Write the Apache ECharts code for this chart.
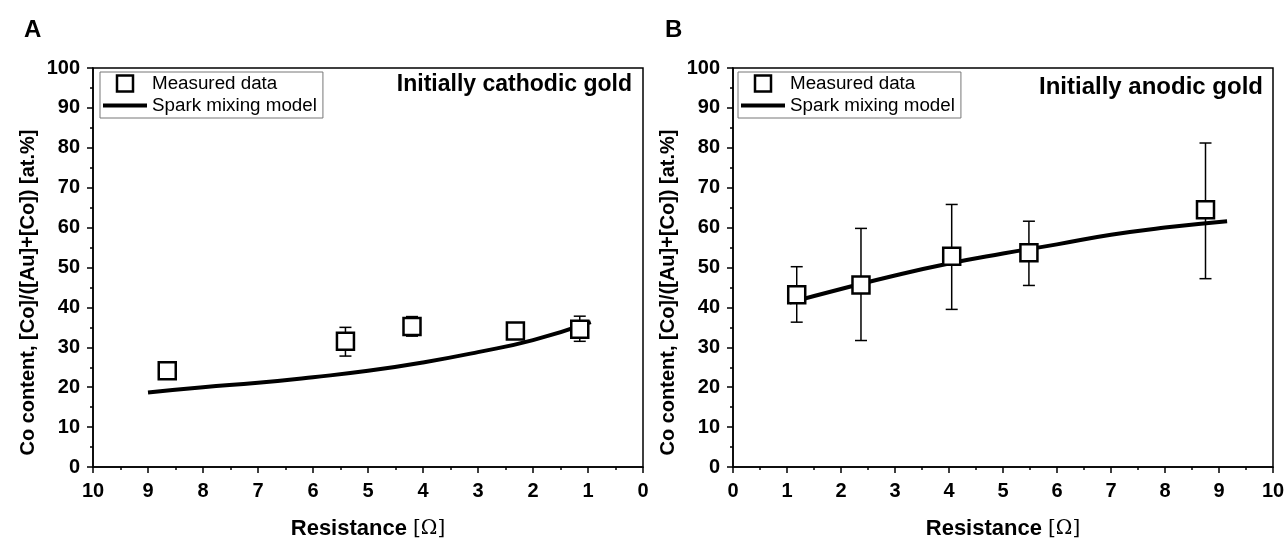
<!DOCTYPE html>
<html>
<head>
<meta charset="utf-8">
<script src="https://cdn.jsdelivr.net/npm/echarts@6/dist/echarts.min.js"></script>
<style>
  html, body { margin:0; padding:0; background:#fff; }
  #main { width:1285px; height:542px; }
</style>
</head>
<body>
<div id="main"></div>
<script>
// panel A: initially cathodic gold
var rA   = [8.65, 5.41, 4.20, 2.32, 1.15];
var coA  = [24.1, 31.5, 35.2, 34.1, 34.5];
var loA  = [23.4, 27.8, 32.8, 32.3, 31.5];
var hiA  = [24.8, 35.0, 37.7, 35.9, 37.8];
var modA = [[9.0,18.7],[8,20.0],[7,21.1],[6,22.5],[5,24.1],[4,26.2],[3,28.8],[2,31.8],[0.95,36.3]];

// panel B: initially anodic gold
var rB   = [1.18, 2.37, 4.05, 5.48, 8.75];
var coB  = [43.2, 45.6, 52.8, 53.7, 64.5];
var loB  = [36.3, 31.7, 39.5, 45.5, 47.2];
var hiB  = [50.2, 59.8, 65.8, 61.6, 81.2];
var modB = [[1.05,41.2],[2,44.6],[3,48.0],[4,51.0],[5,53.5],[6,55.8],[7,58.2],[8,60.0],[9.15,61.6]];

var FONT = "Liberation Sans";
var ch = echarts.init(document.getElementById("main"), null, {renderer:"canvas"});

function xAx(idx, inverse){
  return {
    type:"value", gridIndex:idx, min:0, max:10, interval:1, inverse:inverse,
    name:"Resistance {o|[Ω]}", nameLocation:"middle", nameGap:51,
    nameTextStyle:{color:"#000", fontFamily:FONT, fontWeight:"bold", fontSize:22,
      rich:{o:{fontFamily:"DejaVu Serif", fontWeight:"normal", fontSize:20, color:"#000"}}},
    axisLine:{onZero:false, lineStyle:{color:"#000", width:1.5}},
    axisTick:{inside:false, length:6, lineStyle:{color:"#000", width:1.5}},
    minorTick:{show:true, splitNumber:2, length:3, lineStyle:{color:"#000", width:1.5}},
    axisLabel:{color:"#000", fontFamily:FONT, fontWeight:"bold", fontSize:20, margin:14},
    splitLine:{show:false}
  };
}
function yAx(idx){
  return {
    type:"value", gridIndex:idx, min:0, max:100, interval:10,
    name:"Co content, [Co]/([Au]+[Co]) [at.%]", nameLocation:"middle", nameGap:55,
    nameTextStyle:{color:"#000", fontFamily:FONT, fontWeight:"bold", fontSize:20, padding:[0,50,0,0]},
    axisLine:{show:true, onZero:false, lineStyle:{color:"#000", width:1.5}},
    axisTick:{inside:false, length:6, lineStyle:{color:"#000", width:1.5}},
    minorTick:{show:true, splitNumber:2, length:3, lineStyle:{color:"#000", width:1.5}},
    axisLabel:{color:"#000", fontFamily:FONT, fontWeight:"bold", fontSize:20, margin:13},
    splitLine:{show:false}
  };
}
function errBars(idx, xs, lo, hi){
  return {
    type:"custom", xAxisIndex:idx, yAxisIndex:idx, z:2, silent:true,
    data:xs.map(function(x,i){ return [x, lo[i], hi[i]]; }),
    renderItem:function(params, api){
      var a = api.coord([api.value(0), api.value(1)]);
      var b = api.coord([api.value(0), api.value(2)]);
      var w = 6, st = {stroke:"#000", lineWidth:1.5};
      return {type:"group", children:[
        {type:"line", shape:{x1:a[0], y1:a[1], x2:b[0], y2:b[1]}, style:st},
        {type:"line", shape:{x1:a[0]-w, y1:a[1], x2:a[0]+w, y2:a[1]}, style:st},
        {type:"line", shape:{x1:b[0]-w, y1:b[1], x2:b[0]+w, y2:b[1]}, style:st}
      ]};
    }
  };
}
function measured(idx, xs, ys){
  return {
    type:"scatter", name:"Measured data", xAxisIndex:idx, yAxisIndex:idx, z:4,
    symbol:"rect", symbolSize:17,
    itemStyle:{color:"#fff", borderColor:"#000", borderWidth:2.5, opacity:1},
    emphasis:{disabled:true},
    data:xs.map(function(x,i){ return [x, ys[i]]; })
  };
}
function model(idx, pts){
  return {
    type:"line", name:"Spark mixing model", xAxisIndex:idx, yAxisIndex:idx, z:3,
    smooth:true, symbol:"none", data:pts,
    lineStyle:{color:"#000", width:4},
    itemStyle:{color:"#000"}
  };
}
function legend(left){
  return {
    orient:"vertical", left:left, top:72, itemWidth:44, itemHeight:16, itemGap:3,
    padding:[2,6,3,3], borderColor:"#777", borderWidth:1, selectedMode:false,
    textStyle:{color:"#000", fontFamily:FONT, fontSize:18.8},
    data:[
      {name:"Measured data", icon:"path://M0,0h16v16h-16z",
        itemStyle:{color:"#fff", borderColor:"#000", borderWidth:2.5}},
      {name:"Spark mixing model", icon:"path://M0,0h44v4h-44z",
        itemStyle:{color:"#000", borderWidth:0}}
    ]
  };
}

ch.setOption({
  animation:false,
  backgroundColor:"#fff",
  title:[
    {text:"A", left:19, top:13, textStyle:{fontFamily:FONT, fontWeight:"bold", fontSize:24, color:"#000"}},
    {text:"B", left:660, top:13, textStyle:{fontFamily:FONT, fontWeight:"bold", fontSize:24, color:"#000"}},
    {text:"Initially cathodic gold", right:648, top:68, textStyle:{fontFamily:FONT, fontWeight:"bold", fontSize:23, color:"#000"}},
    {text:"Initially anodic gold", right:17, top:70, textStyle:{fontFamily:FONT, fontWeight:"bold", fontSize:24, color:"#000"}}
  ],
  legend:[legend(100), legend(738)],
  grid:[
    {left:93, width:550, top:68, height:399, outerBoundsMode:"none", containLabel:false,
      show:true, borderColor:"#000", borderWidth:1.5, backgroundColor:"transparent"},
    {left:733, width:540, top:68, height:399, outerBoundsMode:"none", containLabel:false,
      show:true, borderColor:"#000", borderWidth:1.5, backgroundColor:"transparent"}
  ],
  xAxis:[xAx(0, true), xAx(1, false)],
  yAxis:[yAx(0), yAx(1)],
  series:[
    errBars(0, rA, loA, hiA), measured(0, rA, coA), model(0, modA),
    errBars(1, rB, loB, hiB), measured(1, rB, coB), model(1, modB)
  ]
});
</script>
</body>
</html>
